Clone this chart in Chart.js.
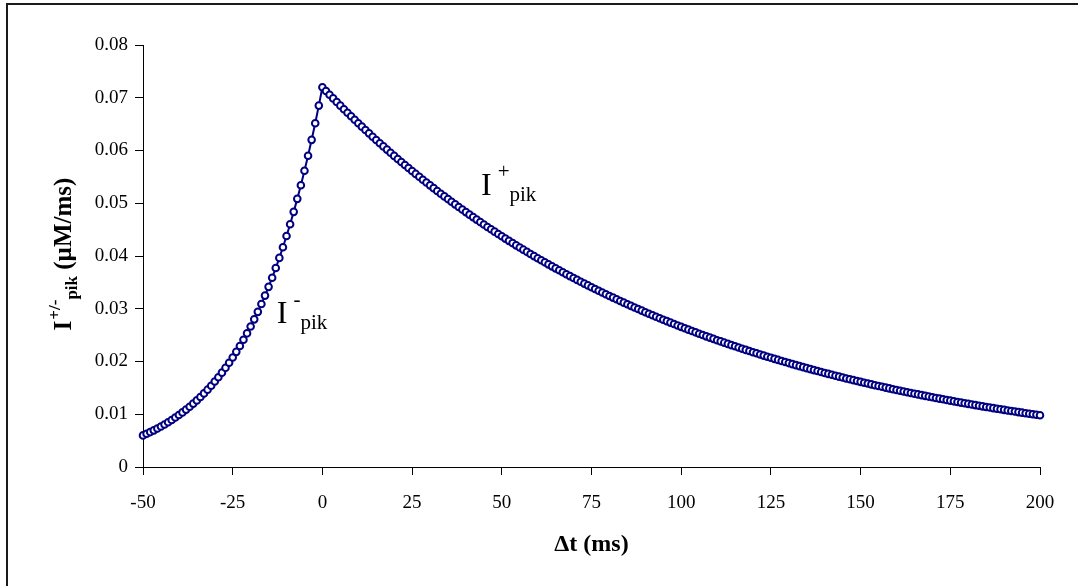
<!DOCTYPE html>
<html>
<head>
<meta charset="utf-8">
<script src="https://cdn.jsdelivr.net/npm/chart.js@4.4.0/dist/chart.umd.min.js"></script>
<style>
  html, body { margin: 0; padding: 0; background: #fff; }
  #wrap { position: relative; width: 1078px; height: 586px; }
</style>
</head>
<body>
<div id="wrap"><canvas id="graficoPik" width="1078" height="586"></canvas></div>
<script>
// valores (µM/ms), passo de 1 ms
// I-pik : dt = -50 .. 0
var iMenos = [
  0.00599, 0.00630, 0.00662, 0.00695, 0.00731, 0.00768, 0.00807, 0.00848, 0.00892, 0.00937,
  0.00985, 0.01035, 0.01088, 0.01143, 0.01202, 0.01263, 0.01327, 0.01395, 0.01466, 0.01541,
  0.01620, 0.01702, 0.01789, 0.01880, 0.01976, 0.02077, 0.02183, 0.02294, 0.02411, 0.02534,
  0.02663, 0.02799, 0.02941, 0.03091, 0.03249, 0.03415, 0.03589, 0.03772, 0.03964, 0.04166,
  0.04379, 0.04602, 0.04837, 0.05083, 0.05342, 0.05615, 0.05901, 0.06202, 0.06518, 0.06851,
  0.07200
];
// I+pik : dt = 1 .. 200
var iMais = [
  0.07129, 0.07058, 0.06988, 0.06919, 0.06850, 0.06782, 0.06715, 0.06648, 0.06582, 0.06517,
  0.06452, 0.06388, 0.06325, 0.06262, 0.06200, 0.06138, 0.06078, 0.06017, 0.05958, 0.05898,
  0.05840, 0.05782, 0.05725, 0.05668, 0.05612, 0.05556, 0.05501, 0.05446, 0.05392, 0.05339,
  0.05286, 0.05233, 0.05181, 0.05130, 0.05079, 0.05029, 0.04979, 0.04929, 0.04880, 0.04832,
  0.04784, 0.04737, 0.04690, 0.04643, 0.04597, 0.04551, 0.04506, 0.04462, 0.04417, 0.04373,
  0.04330, 0.04287, 0.04245, 0.04202, 0.04161, 0.04120, 0.04079, 0.04038, 0.03998, 0.03958,
  0.03919, 0.03880, 0.03842, 0.03804, 0.03766, 0.03729, 0.03692, 0.03655, 0.03619, 0.03583,
  0.03547, 0.03512, 0.03477, 0.03443, 0.03409, 0.03375, 0.03341, 0.03308, 0.03275, 0.03243,
  0.03211, 0.03179, 0.03147, 0.03116, 0.03085, 0.03055, 0.03024, 0.02994, 0.02965, 0.02935,
  0.02906, 0.02877, 0.02849, 0.02820, 0.02792, 0.02765, 0.02737, 0.02710, 0.02683, 0.02657,
  0.02630, 0.02604, 0.02578, 0.02553, 0.02527, 0.02502, 0.02477, 0.02453, 0.02429, 0.02404,
  0.02381, 0.02357, 0.02334, 0.02310, 0.02288, 0.02265, 0.02242, 0.02220, 0.02198, 0.02176,
  0.02155, 0.02133, 0.02112, 0.02091, 0.02071, 0.02050, 0.02030, 0.02010, 0.01990, 0.01970,
  0.01950, 0.01931, 0.01912, 0.01893, 0.01874, 0.01855, 0.01837, 0.01819, 0.01801, 0.01783,
  0.01765, 0.01748, 0.01730, 0.01713, 0.01696, 0.01679, 0.01663, 0.01646, 0.01630, 0.01614,
  0.01598, 0.01582, 0.01566, 0.01551, 0.01535, 0.01520, 0.01505, 0.01490, 0.01475, 0.01461,
  0.01446, 0.01432, 0.01418, 0.01403, 0.01390, 0.01376, 0.01362, 0.01349, 0.01335, 0.01322,
  0.01309, 0.01296, 0.01283, 0.01270, 0.01258, 0.01245, 0.01233, 0.01221, 0.01209, 0.01197,
  0.01185, 0.01173, 0.01161, 0.01150, 0.01138, 0.01127, 0.01116, 0.01105, 0.01094, 0.01083,
  0.01072, 0.01062, 0.01051, 0.01041, 0.01030, 0.01020, 0.01010, 0.01000, 0.00990, 0.00980
];
var dtInicio = -50;           // primeiro dt (ms)
var xTicks = [-50, -25, 0, 25, 50, 75, 100, 125, 150, 175, 200];
var yTicks = [0, 0.01, 0.02, 0.03, 0.04, 0.05, 0.06, 0.07, 0.08];
// rótulos dentro do gráfico: posição em unidades dos eixos
var rotulos = [
  { dt: -12.7, valor: 0.0273, sinal: '-' },
  { dt: 44.2, valor: 0.0516, sinal: '+' }
];

var pontos = [];
iMenos.concat(iMais).forEach(function(v, i) {
  pontos.push({ x: dtInicio + i, y: v });
});

var serif = '"Liberation Serif", "Times New Roman", serif';

// escreve texto com sobrescrito / subscrito
function partesLargura(c, partes) {
  var w = 0;
  partes.forEach(function(p) {
    c.font = p.font;
    w += (p.gap || 0) + c.measureText(p.text).width;
  });
  return w;
}
function desenhaPartes(c, x, y, partes, vertical) {
  c.save();
  c.translate(x, y);
  if (vertical) c.rotate(-Math.PI / 2);
  c.fillStyle = '#000';
  c.textBaseline = 'alphabetic';
  c.textAlign = 'left';
  var pos = 0;
  partes.forEach(function(p) {
    c.font = p.font;
    pos += p.gap || 0;
    c.fillText(p.text, pos, p.dy || 0);
    pos += c.measureText(p.text).width;
  });
  c.restore();
}

var pluginTextos = {
  id: 'textos',
  beforeDraw: function(chart) {
    var c = chart.ctx;
    c.save();
    c.fillStyle = '#fff';
    c.fillRect(0, 0, chart.width, chart.height);
    c.strokeStyle = '#1a1a1a';
    c.lineWidth = 2;
    c.beginPath();
    c.moveTo(7, chart.height);
    c.lineTo(7, 4);
    c.lineTo(chart.width, 4);
    c.stroke();
    c.restore();
  },
  afterDraw: function(chart) {
    var c = chart.ctx;
    var area = chart.chartArea;
    var sx = chart.scales.x, sy = chart.scales.y;

    // título do eixo x
    c.save();
    c.font = 'bold 24px ' + serif;
    c.fillStyle = '#000';
    c.textAlign = 'center';
    c.textBaseline = 'middle';
    c.fillText('\u0394t (ms)', (area.left + area.right) / 2, 545);
    c.restore();

    // título do eixo y
    var partesY = [
      { text: 'I', font: 'bold 25px ' + serif },
      { text: '+/-', font: 'bold 17px ' + serif, dy: -11, gap: 1 },
      { text: 'pik', font: 'bold 17px ' + serif, dy: 6 },
      { text: ' (\u00b5M/ms)', font: 'bold 25px ' + serif }
    ];
    var w = partesLargura(c, partesY);
    desenhaPartes(c, 71, (area.top + area.bottom) / 2 - 2 + w / 2, partesY, true);

    // rótulos I-pik e I+pik
    rotulos.forEach(function(r) {
      var px = sx.getPixelForValue(r.dt);
      var py = sy.getPixelForValue(r.valor);
      desenhaPartes(c, px, py, [
        { text: 'I', font: '32px ' + serif },
        { text: r.sinal, font: '21px ' + serif, dy: -17, gap: 6 },
        { text: 'pik', font: '21px ' + serif, dy: 6 }
      ], false);
    });
  }
};

var config = {
  type: 'line',
  data: {
    datasets: [{
      data: pontos,
      borderColor: '#000080',
      borderWidth: 2,
      pointRadius: 3.3,
      pointBorderWidth: 2,
      pointBackgroundColor: '#ffffff',
      pointBorderColor: '#000080',
      tension: 0,
      clip: false
    }]
  },
  options: {
    responsive: false,
    animation: false,
    layout: { padding: { top: 45, right: 38, left: 0, bottom: 0 } },
    plugins: { legend: { display: false }, tooltip: { enabled: false } },
    scales: {
      x: {
        type: 'linear',
        min: -50,
        max: 200,
        afterFit: function(s) { s.height = 119; },
        afterBuildTicks: function(s) { s.ticks = xTicks.map(function(v) { return { value: v }; }); },
        grid: { display: true, drawOnChartArea: false, drawTicks: true, tickLength: 8, color: '#000' },
        border: { display: true, color: '#000', width: 1 },
        ticks: {
          color: '#000',
          padding: 17,
          maxRotation: 0,
          font: { family: serif, size: 19 }
        }
      },
      y: {
        min: 0,
        max: 0.08,
        afterFit: function(s) { s.width = 143; },
        afterBuildTicks: function(s) { s.ticks = yTicks.map(function(v) { return { value: v }; }); },
        grid: { display: true, drawOnChartArea: false, drawTicks: true, tickLength: 8, color: '#000' },
        border: { display: true, color: '#000', width: 1 },
        ticks: {
          color: '#000',
          padding: 7,
          font: { family: serif, size: 19 },
          callback: function(v) { return v === 0 ? '0' : v.toFixed(2); }
        }
      }
    }
  },
  plugins: [pluginTextos]
};

var ctx = document.getElementById('graficoPik').getContext('2d');
new Chart(ctx, config);
</script>
</body>
</html>
